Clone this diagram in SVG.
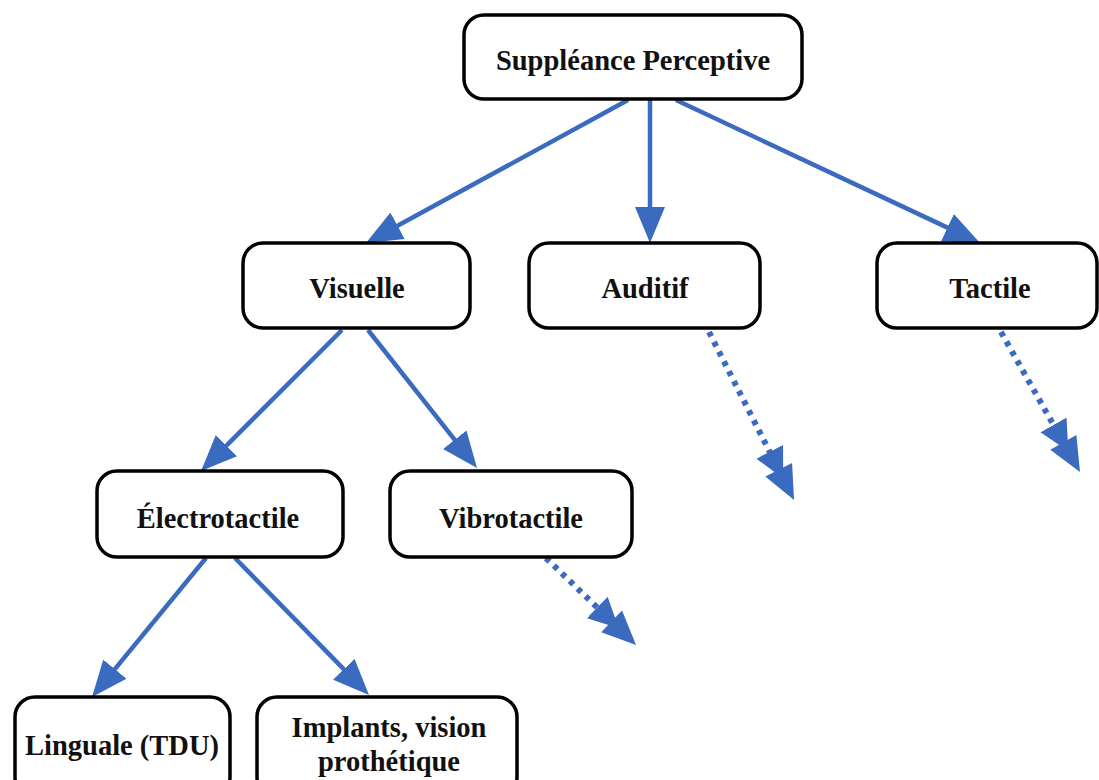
<svg xmlns="http://www.w3.org/2000/svg" width="1099" height="780" viewBox="0 0 1099 780">
<style>
.box{fill:#fff;stroke:#000;stroke-width:3.5}
.t{font-family:"Liberation Serif","Times New Roman",serif;font-weight:bold;font-size:28.5px;fill:#111;text-anchor:middle}
.a{stroke:#3a6bbf;stroke-width:4.5;fill:none}
.d{stroke:#3a6bbf;stroke-width:6;fill:none;stroke-dasharray:5 6}
</style>
<defs>
<marker id="ah" viewBox="0 0 36 30" refX="10" refY="15" markerWidth="36" markerHeight="30" markerUnits="userSpaceOnUse" orient="auto">
<path d="M0,0 L36,15 L0,30 Z" fill="#3a6bbf"/>
</marker>
<marker id="dh" viewBox="0 0 54 32" refX="20" refY="16" markerWidth="54" markerHeight="32" markerUnits="userSpaceOnUse" orient="auto">
<path d="M0,1 L30,16 L0,31 Z M20,1 L54,16 L20,31 Z" fill="#3a6bbf"/>
</marker>
</defs>
<g id="connectors">
<line class="a" x1="628" y1="100" x2="388.8" y2="230.5" marker-end="url(#ah)"/>
<line class="a" x1="650" y1="100" x2="650" y2="217" marker-end="url(#ah)"/>
<line class="a" x1="676" y1="100" x2="956.5" y2="231.9" marker-end="url(#ah)"/>
<line class="a" x1="342" y1="330" x2="219.4" y2="452.6" marker-end="url(#ah)"/>
<line class="a" x1="368" y1="330" x2="460.9" y2="447.6" marker-end="url(#ah)"/>
<line class="a" x1="206" y1="558" x2="108.5" y2="676.9" marker-end="url(#ah)"/>
<line class="a" x1="235" y1="558" x2="350.8" y2="676.4" marker-end="url(#ah)"/>
<line class="d" x1="709" y1="332" x2="778.7" y2="469.7" marker-end="url(#dh)"/>
<line class="d" x1="1001" y1="332" x2="1063.3" y2="442.4" marker-end="url(#dh)"/>
<line class="d" x1="546" y1="558" x2="611.6" y2="621.4" marker-end="url(#dh)"/>
</g>
<g id="n-root"><rect class="box" x="464" y="15" width="338" height="84" rx="20"/><text class="t" x="633" y="70">Suppléance Perceptive</text></g>
<g id="n-visuelle"><rect class="box" x="243" y="243" width="227" height="85" rx="20"/><text class="t" x="357" y="298">Visuelle</text></g>
<g id="n-auditif"><rect class="box" x="529" y="243" width="231" height="85" rx="20"/><text class="t" x="645" y="298">Auditif</text></g>
<g id="n-tactile"><rect class="box" x="877" y="243" width="220" height="85" rx="20"/><text class="t" x="990" y="298">Tactile</text></g>
<g id="n-electro"><rect class="box" x="97" y="471" width="246" height="86" rx="20"/><text class="t" x="218" y="528">Électrotactile</text></g>
<g id="n-vibro"><rect class="box" x="390" y="471" width="242" height="86" rx="20"/><text class="t" x="511" y="528">Vibrotactile</text></g>
<g id="n-linguale"><rect class="box" x="15" y="697" width="215" height="100" rx="20"/><text class="t" x="122" y="755">Linguale (TDU)</text></g>
<g id="n-implants"><rect class="box" x="257" y="697" width="260" height="100" rx="20"/><text class="t" x="389" y="737">Implants, vision</text><text class="t" x="389" y="771">prothétique</text></g>
</svg>
